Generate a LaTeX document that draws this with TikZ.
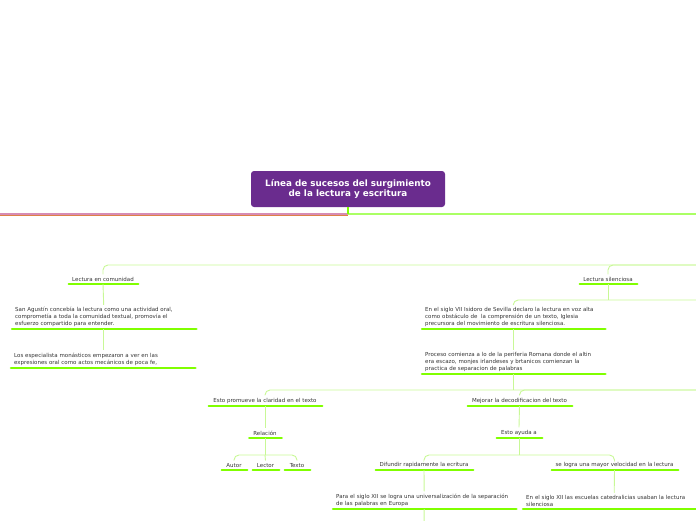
\documentclass[tikz,border=0pt]{standalone}
\usepackage{fontspec}
\setmainfont{DejaVu Sans}
\usetikzlibrary{positioning}

\definecolor{titlepurple}{RGB}{106,44,142}
\definecolor{ulgreen}{RGB}{128,255,0}
\definecolor{linkgreen}{RGB}{200,248,150}
\definecolor{maingreen}{RGB}{170,255,100}
\definecolor{textgray}{RGB}{51,51,51}
\definecolor{rosebranch}{RGB}{214,140,180}
\definecolor{orangebranch}{RGB}{222,128,70}

\tikzset{
  topic/.style={font=\fontsize{5.5}{6.6}\selectfont, text=textgray, inner xsep=4pt, inner ysep=2.5pt, anchor=south},
  note/.style={topic, align=left, anchor=south west, text width=177pt, execute at begin node={\hyphenpenalty=10000}},
  uline/.style={ulgreen, line width=2.6pt, line cap=round},
  link/.style={linkgreen, line width=0.9pt, rounded corners=5pt},
}

\begin{document}
\begin{tikzpicture}[x=1pt, y=-1pt]
	\useasboundingbox (0,0) rectangle (696,520);

	% titulo
	\node[fill=titlepurple, rounded corners=3pt, minimum width=194pt, minimum height=36pt, text=white, font=\bfseries\fontsize{8.8}{10.4}\selectfont, align=center] (title) at (348,189) {Línea de sucesos del surgimiento\\de la lectura y escritura};

	\coordinate (stem) at (348,214);
	\coordinate (mainL) at (0,214);
	\coordinate (mainR) at (700,214);
	\coordinate (rowA) at (720,265);
	\coordinate (rowB) at (720,300);
	\coordinate (rowC) at (720,390);
	\coordinate (relfork) at (265,455);
	\coordinate (ayudafork) at (519,455);
	\coordinate (univout) at (424,530);

	% temas
	\node[topic, minimum width=70pt] (comun) at (103,284) {Lectura en comunidad};
	\node[note] (agus) at (11,329) {San Agustín concebía la lectura como una actividad oral,\\comprometía a toda la comunidad textual, promovía el\\esfuerzo compartido para entender.};
	\node[note] (espec) at (10,368) {Los especialista monásticos empezaron a ver en las\\expresiones oral como actos mecánicos de poca fe,};

	\node[topic, minimum width=58pt] (silen) at (608,284) {Lectura silenciosa};
	\node[note, text width=176pt] (isid) at (421,329) {En el siglo VII Isidoro de Sevilla declaro la lectura en voz alta\\como obstáculo de~ la comprensión de un texto, Iglesia\\precursora del movimiento de escritura silenciosa.};
	\node[note, text width=176pt] (proc) at (421,374) {Proceso comienza a lo de la periferia Romana donde el altin\\era escazo, monjes irlandeses y brtanicos comienzan la\\practica de separacion de palabras};

	\node[topic, minimum width=114pt] (prom) at (265,406) {Esto promueve la claridad en el texto};
	\node[topic, minimum width=33pt] (rel) at (265,438) {Relación};
	\node[topic, minimum width=26pt] (autor) at (234,470) {Autor};
	\node[topic, minimum width=27pt] (lector) at (265.5,470) {Lector};
	\node[topic, minimum width=26pt] (texto) at (297,470) {Texto};

	\node[topic, minimum width=105pt] (mejor) at (519.5,406) {Mejorar la decodificacion del texto};
	\node[topic, minimum width=46pt] (ayuda) at (519,438) {Esto ayuda a};
	\node[topic, minimum width=98pt] (difun) at (424,470) {Difundir rapidamente la ecritura};
	\node[topic, minimum width=127pt] (veloc) at (614.5,470) {se logra una mayor velocidad en la lectura};
	\node[note, text width=176pt] (univ) at (332,509) {Para el siglo XII se logra una universalización de la separación\\de las palabras en Europa};
	\node[note, text width=176pt] (cated) at (522,509) {En el siglo XII las escuelas catedralicias usaban la lectura\\silenciosa};

	\foreach \n in {comun,agus,espec,silen,isid,proc,prom,rel,autor,lector,texto,mejor,ayuda,difun,veloc,univ,cated}
		\draw[uline] (\n.south west) ++(1,0) -- (\n.south east);

	% ramas
	\draw[rosebranch, line width=1.2pt] (stem) -- (mainL);
	\draw[orangebranch, line width=0.4pt] ([yshift=-0.8pt]stem) -- ([yshift=-0.8pt]mainL);
	\draw[maingreen, line width=1.2pt] (stem) -- (mainR);
	\draw[ulgreen, line width=1.6pt] (title.south) -- (stem);

	\draw[link] (rowA) -| (comun.north);
	\draw[link] (rowA) -| (silen.north);
	\draw[link] (comun.south) -- (agus.north);
	\draw[link] (agus.south) -- (agus.south |- espec.north);

	\draw[link] (silen.south) -- (silen.south |- rowB);
	\draw[link] (rowB) -| (isid.north);
	\draw[link] (isid.south) -- (proc.north);
	\draw[link] (proc.south) -- (proc.south |- rowC);
	\draw[link] (rowC) -| (prom.north);
	\draw[link] (rowC) -| (mejor.north);

	\draw[link] (prom.south) -- (rel.north);
	\draw[link] (rel.south) -- (relfork);
	\draw[link] (relfork) -| (autor.north);
	\draw[link] (relfork) -| (texto.north);
	\draw[link] (relfork) -- (lector.north);

	\draw[link] (mejor.south) -- (ayuda.north);
	\draw[link] (ayuda.south) -- (ayudafork);
	\draw[link] (ayudafork) -| (difun.north);
	\draw[link] (ayudafork) -| (veloc.north);
	\draw[link] (difun.south) -- (univ.north);
	\draw[link] (veloc.south) -- (cated.north);
	\draw[link] (univ.south) -- (univout);
\end{tikzpicture}
\end{document}
